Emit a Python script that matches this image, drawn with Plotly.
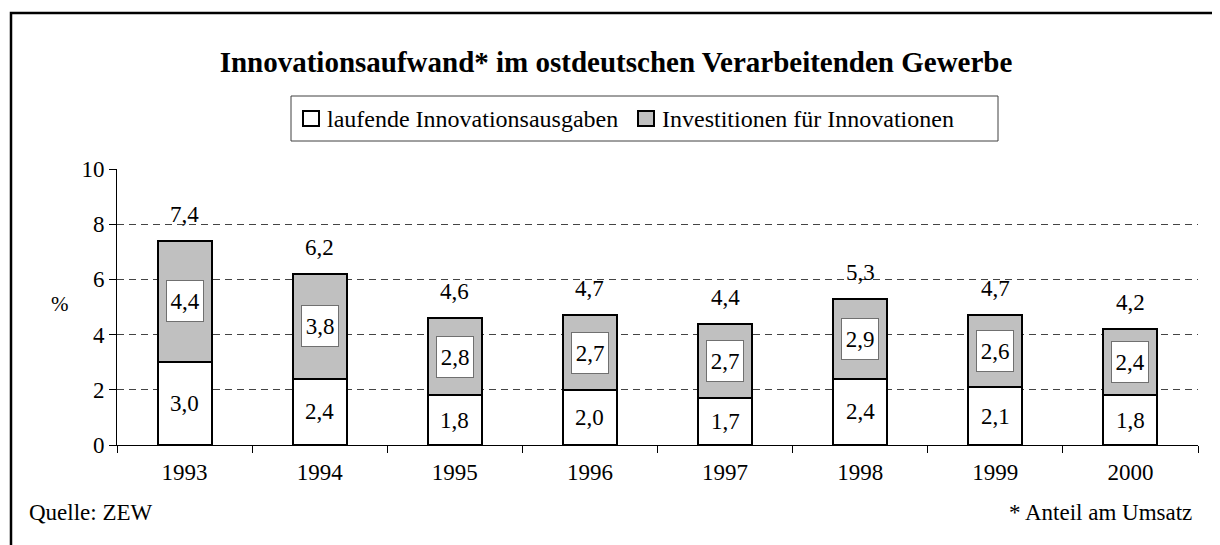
import plotly.graph_objects as go

years = ["1993", "1994", "1995", "1996", "1997", "1998", "1999", "2000"]
laufende = [3.0, 2.4, 1.8, 2.0, 1.7, 2.4, 2.1, 1.8]
investitionen = [4.4, 3.8, 2.8, 2.7, 2.7, 2.9, 2.6, 2.4]
totals = [7.4, 6.2, 4.6, 4.7, 4.4, 5.3, 4.7, 4.2]
series_names = ["laufende Innovationsausgaben", "Investitionen für Innovationen"]
series_colors = ["white", "#C0C0C0"]

FONT = "Liberation Serif"
FS = 23

def de(v):
    return f"{v:.1f}".replace(".", ",")

# screen px -> paper coords (plot area: x 117..1198, y 169..445 on screen)
def px(sx):
    return (sx - 117) / 1081

def py(sy):
    return (445 - sy) / 276

fig = go.Figure()
for vals, name, col in zip([laufende, investitionen], series_names, series_colors):
    fig.add_trace(go.Bar(
        x=years, y=vals, name=name,
        marker=dict(color=col, line=dict(color="black", width=2)),
        width=0.4, showlegend=False,
    ))

annotations = []
for i, (a, b, t) in enumerate(zip(laufende, investitionen, totals)):
    annotations.append(dict(x=i, y=a / 2, text=de(a), showarrow=False,
                            font=dict(family=FONT, size=FS, color="black")))
    annotations.append(dict(x=i, y=a + b / 2, text=de(b), showarrow=False,
                            font=dict(family=FONT, size=FS, color="black"),
                            bgcolor="white", bordercolor="#707070", borderwidth=1,
                            width=36, height=40, borderpad=0))
    annotations.append(dict(x=i, y=t, text=de(t), showarrow=False, yanchor="bottom",
                            yshift=12, font=dict(family=FONT, size=FS, color="black")))

annotations.append(dict(xref="paper", yref="paper", x=px(60), y=py(304),
                        xanchor="center", yanchor="middle",
                        text="%", showarrow=False, font=dict(family=FONT, size=21, color="black")))
annotations.append(dict(xref="paper", yref="paper", x=px(27), y=py(512),
                        xanchor="left", yanchor="middle", text="Quelle: ZEW", showarrow=False,
                        font=dict(family=FONT, size=FS, color="black")))
annotations.append(dict(xref="paper", yref="paper", x=px(1194), y=py(512),
                        xanchor="right", yanchor="middle", text="* Anteil am Umsatz", showarrow=False,
                        font=dict(family=FONT, size=FS, color="black")))

shapes = [
    # outer frame (only top and left edges visible in the window)
    dict(type="rect", xref="paper", yref="paper",
         x0=px(11), x1=px(1240), y0=py(570), y1=py(13),
         line=dict(color="black", width=2.5), fillcolor="rgba(0,0,0,0)", layer="below"),
    # legend box
    dict(type="rect", xref="paper", yref="paper",
         x0=px(291), x1=px(998), y0=py(141), y1=py(96),
         line=dict(color="#404040", width=1), fillcolor="white", layer="above"),
]

# legend entries
legend_sym_x = [303, 638]
for sx, name, col in zip(legend_sym_x, series_names, series_colors):
    shapes.append(dict(type="rect", xref="paper", yref="paper",
                       x0=px(sx), x1=px(sx + 16), y0=py(126), y1=py(111),
                       line=dict(color="black", width=2), fillcolor=col, layer="above"))
    annotations.append(dict(xref="paper", yref="paper", x=px(sx + 22), y=py(118.5),
                            xanchor="left", yanchor="middle", text=name, showarrow=False,
                            font=dict(family=FONT, size=24, color="black")))

fig.update_layout(
    barmode="stack",
    width=1212, height=537,
    margin=dict(l=109, r=22, t=161, b=100),
    paper_bgcolor="white", plot_bgcolor="white",
    font=dict(family=FONT, size=FS, color="black"),
    title=dict(text="<b>Innovationsaufwand* im ostdeutschen Verarbeitenden Gewerbe</b>",
               xref="container", yref="container", x=(616 - 8) / 1212, y=1 - (62 - 8) / 537,
               xanchor="center", yanchor="middle",
               font=dict(family=FONT, size=29, color="black")),
    annotations=annotations,
    shapes=shapes,
    showlegend=False,
)
fig.update_xaxes(type="category", range=[-0.5, 7.5], showline=True, linecolor="black", linewidth=1,
                 ticks="outside", tickson="boundaries", ticklen=7, tickcolor="black",
                 ticklabelstandoff=6,
                 showgrid=False, tickangle=0, tickfont=dict(family=FONT, size=FS, color="black"))
fig.update_yaxes(range=[0, 10], tickvals=[0, 2, 4, 6, 8, 10], showline=True, linecolor="black",
                 linewidth=1, ticks="outside", ticklen=7, tickcolor="black",
                 showgrid=True, gridcolor="#444444", griddash="7px,5px", gridwidth=1,
                 zeroline=False, tickfont=dict(family=FONT, size=FS, color="black"))

fig.write_html("out.html")
